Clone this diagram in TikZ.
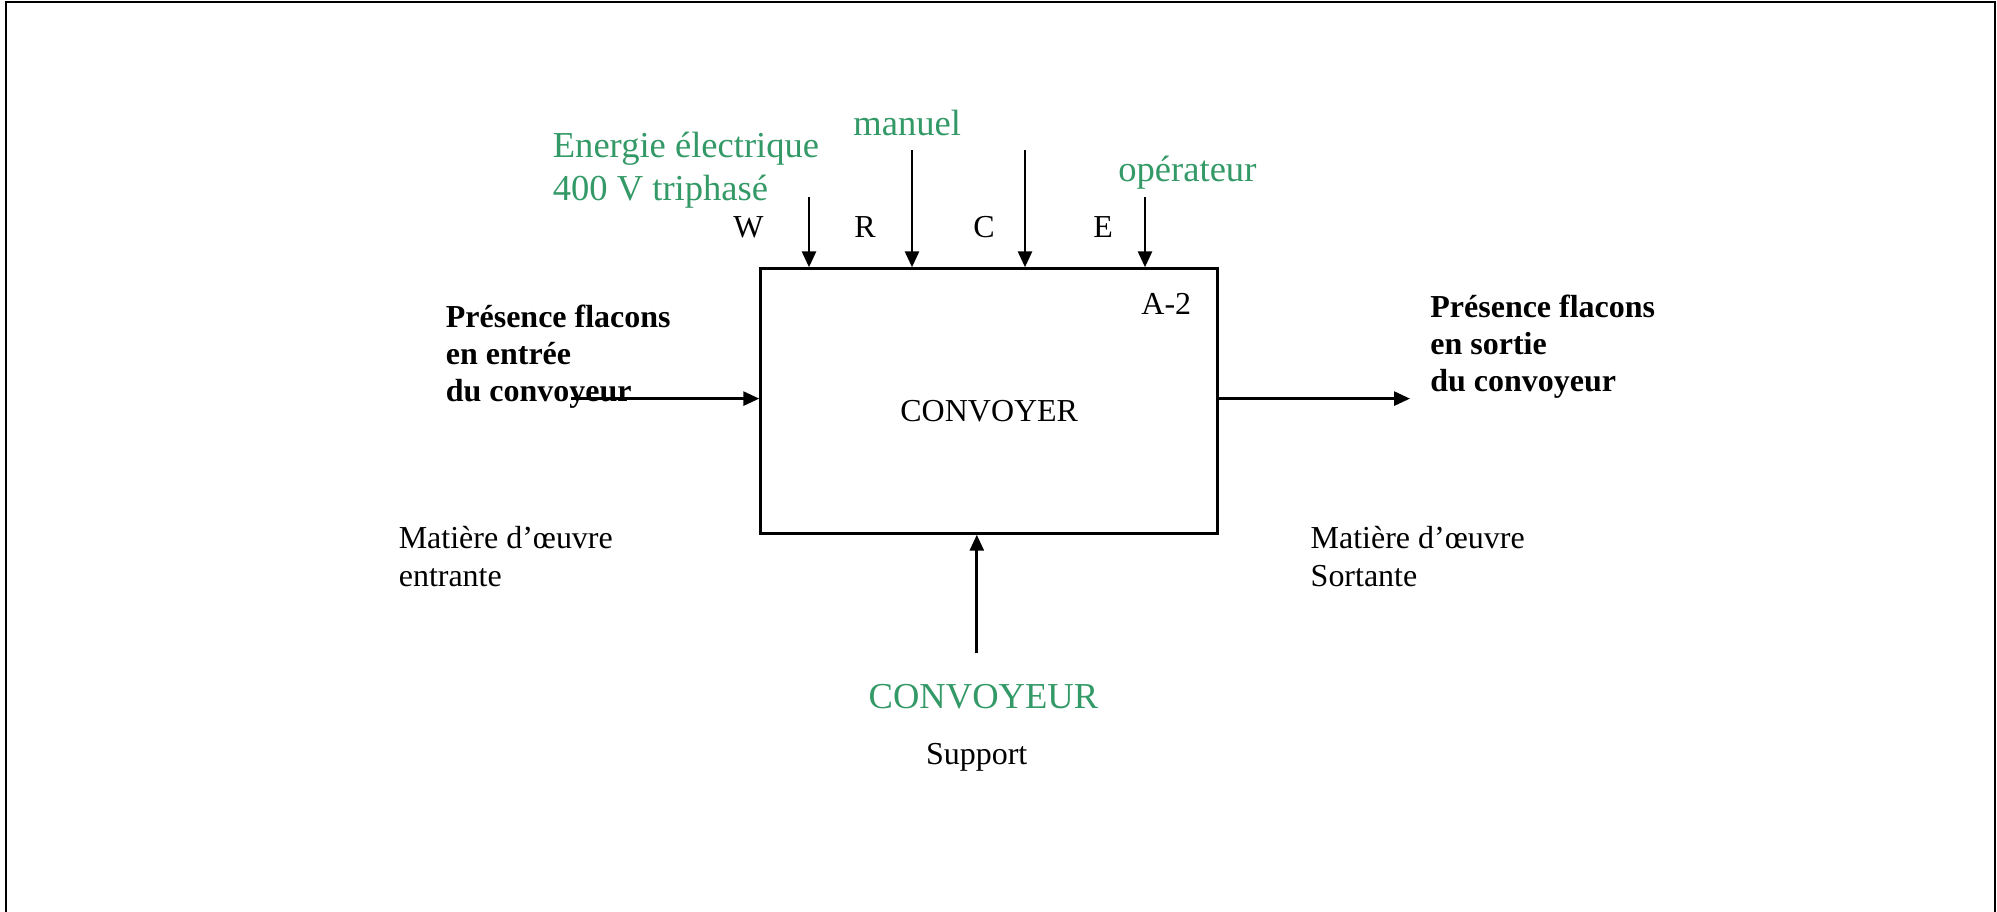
\documentclass[tikz,border=0pt]{standalone}
\usepackage{fontspec}
\usetikzlibrary{arrows.meta}
\setmainfont{Liberation Serif}
\definecolor{sadtgreen}{RGB}{51,153,102}
\tikzset{
 txt/.style={font=\fontsize{9.1}{10.6}\selectfont, inner sep=0pt, align=left},
 boldtxt/.style={txt, font=\fontsize{9.1}{10.6}\selectfont\bfseries},
 greentxt/.style={font=\fontsize{10.4}{12.3}\selectfont, text=sadtgreen, inner sep=0pt, align=left},
}
\begin{document}
\begin{tikzpicture}[line width=0.8pt, >={Triangle[length=1.6mm,width=1.4mm]}]
 \useasboundingbox (0,0) rectangle (19.97,-9.12);
 % page frame, open at the bottom
 \draw [line width=0.6pt] (0.06,-9.3) -- (0.06,-0.02) -- (19.95,-0.02) -- (19.95,-9.3);

 % the function box with its name and number
 \node (conv) [draw, line width=0.7pt, minimum width=4.57cm, minimum height=2.65cm, inner sep=0pt] at (9.89,-4.01) {};
 \node (name) [txt, anchor=base west] at (8.99,-4.216) {CONVOYER};
 \node (num) [txt, anchor=base west] at (11.40,-3.146) {A-2};

 % control arrows from above {x/start y/letter/letter x}
 \foreach \xpos\ystart\lbl\lblx in {8.09/-1.97/W/7.32, 9.12/-1.50/R/8.53, 10.25/-1.50/C/9.72, 11.45/-1.97/E/10.92} {
  \coordinate (top\lbl) at (\xpos,\ystart);
  \draw [->] (top\lbl) -- (top\lbl |- conv.north);
  \node (let\lbl) [txt, anchor=base west] at (\lblx,-2.37) {\lbl};
 }

 % green data on the controls (base = last line)
 \node (energie) [greentxt, anchor=base west] at (5.515,-2.005) {Energie électrique\\400 V triphasé};
 \node (manuel) [greentxt, anchor=base west] at (8.52,-1.35) {manuel};
 \node (oper) [greentxt, anchor=base west] at (11.17,-1.81) {opérateur};

 % input and output
 \coordinate (in) at (5.706,-3.986);
 \coordinate (out) at (14.10,-3.986);
 \draw [->] (in) -- (in -| conv.west);
 \draw [->] (conv.east |- out) -- (out);
 \node (intxt) [boldtxt, anchor=base west] at (4.445,-4.018) {Présence flacons\\en entrée\\du convoyeur};
 \node (outtxt) [boldtxt, anchor=base west] at (14.29,-3.916) {Présence flacons\\en sortie\\du convoyeur};
 \node (moe) [txt, anchor=base west] at (3.974,-5.862) {Matière d’œuvre\\entrante};
 \node (mos) [txt, anchor=base west] at (13.093,-5.862) {Matière d’œuvre\\Sortante};

 % support from below
 \coordinate (sup) at (9.768,-6.534);
 \draw [->] (sup) -- (sup |- conv.south);
 \node (convoyeur) [greentxt, anchor=base west] at (8.673,-7.088) {CONVOYEUR};
 \node (support) [txt, anchor=base west] at (9.246,-7.64) {Support};
\end{tikzpicture}
\end{document}
